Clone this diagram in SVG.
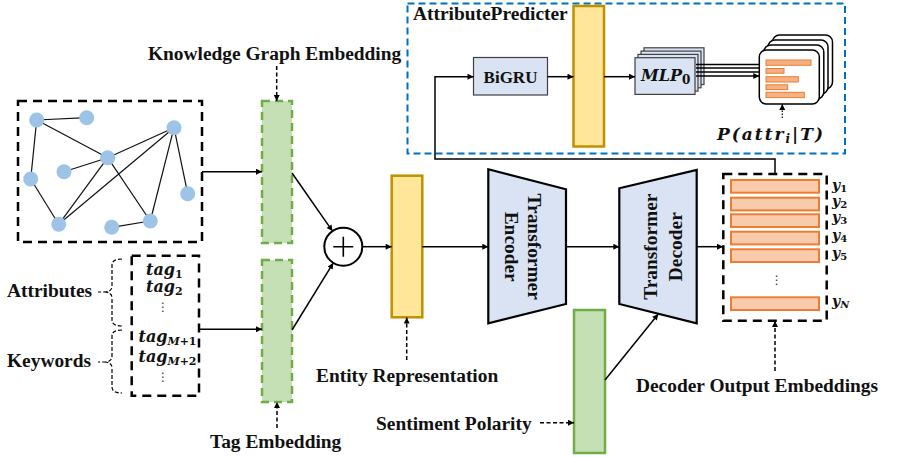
<svg xmlns="http://www.w3.org/2000/svg" width="897" height="457" viewBox="0 0 897 457">
<defs>
<style>
.lbl{font-family:"Liberation Serif","Times New Roman",serif;font-weight:bold;font-size:19.4px;fill:#111}
.math{font-family:"DejaVu Serif",serif;font-weight:bold;font-style:italic;fill:#111}
.up{font-style:normal}
.dots{font-family:"DejaVu Sans",sans-serif;fill:#333}
.edge{stroke:#111;stroke-width:1.2;fill:none}
.node{fill:#9dc3e6}
.conn{stroke:#000;stroke-width:1.5;fill:none}
.dash{stroke:#000;stroke-width:1.5;fill:none;stroke-dasharray:4 2.5}
.box{fill:none;stroke:#000;stroke-width:2.5;stroke-dasharray:9 6}
.green{fill:#c5e0b4;stroke:#70ad47;stroke-width:2.5;stroke-dasharray:8 5}
.yellow{fill:#ffe699;stroke:#bf9000;stroke-width:2.5}
.trap{fill:#dae3f3;stroke:#000;stroke-width:2.2}
.lblue{fill:#dae3f3;stroke:#404040;stroke-width:1.2}
.obar{fill:#f8cbad;stroke:#ed7d31;stroke-width:2}
.cbar{fill:#f4b183;stroke:#ed7d31;stroke-width:1}
.card{fill:#fff;stroke:#000;stroke-width:1.5}
.brace{fill:none;stroke:#000;stroke-width:1.2;stroke-dasharray:4 2}
</style>
<marker id="ah" viewBox="0 0 10 10" refX="10" refY="5" markerWidth="7" markerHeight="6" markerUnits="userSpaceOnUse" orient="auto"><path d="M0,0 L10,5 L0,10 z" fill="#000"/></marker>
</defs>
<rect width="897" height="457" fill="#fff"/>

<!-- Attribute predictor -->
<g id="attribute-predicter">
<rect x="407.5" y="3.5" width="437.5" height="150" fill="none" stroke="#0070c0" stroke-width="2" stroke-dasharray="7 4"/>
<text class="lbl" x="413" y="20">AttributePredicter</text>
</g>
<g id="bigru">
<rect class="lblue" x="473.5" y="57.5" width="74" height="37.5"/>
<text class="lbl" x="510.5" y="82.5" text-anchor="middle" style="font-size:17px">BiGRU</text>
</g>
<g id="ap-hidden">
<rect class="yellow" x="573.5" y="6" width="30.5" height="140.5"/>
</g>
<g id="mlp">
<rect class="lblue" x="644" y="47.8" width="60" height="36.7"/>
<rect class="lblue" x="641" y="51.1" width="60" height="36.7"/>
<rect class="lblue" x="638" y="54.4" width="60" height="36.7"/>
<rect class="lblue" x="635" y="57.7" width="60" height="36.7"/>
<text class="math" x="641" y="81" style="font-size:16px">MLP<tspan class="up" font-size="12" dy="3">0</tspan></text>
</g>
<g id="attr-prob">
<rect class="card" x="772.5" y="35" width="60" height="54" rx="7"/>
<rect class="card" x="768" y="40" width="60" height="54" rx="7"/>
<rect class="card" x="763.8" y="45" width="60" height="54" rx="7"/>
<rect class="card" x="759.3" y="50" width="60" height="54" rx="7"/>
<rect class="cbar" x="766" y="60" width="45" height="5.3"/>
<rect class="cbar" x="766" y="68.5" width="18" height="4.8"/>
<rect class="cbar" x="766" y="76.7" width="32.3" height="5.3"/>
<rect class="cbar" x="766" y="84.8" width="21.7" height="4.8"/>
<rect class="cbar" x="766" y="92.3" width="38.3" height="5.3"/>
<text class="math" x="717" y="140" style="font-size:17px" letter-spacing="2">P(attr<tspan font-size="12" dy="3">i</tspan><tspan dy="-3">|T)</tspan></text>
</g>

<!-- Knowledge graph -->
<g id="knowledge-graph">
<rect class="box" x="18" y="101" width="184" height="141"/>
<g class="edge">
<line x1="36.7" y1="120" x2="86.7" y2="117.7"/>
<line x1="36.7" y1="120" x2="107.7" y2="157.7"/>
<line x1="36.7" y1="120" x2="30.7" y2="179"/>
<line x1="30.7" y1="179" x2="58.7" y2="224.3"/>
<line x1="64" y1="171.7" x2="107.7" y2="157.7"/>
<line x1="107.7" y1="157.7" x2="58.7" y2="224.3"/>
<line x1="174" y1="127.7" x2="107.7" y2="157.7"/>
<line x1="174" y1="127.7" x2="58.7" y2="224.3"/>
<line x1="174" y1="127.7" x2="150.3" y2="221"/>
<line x1="174" y1="127.7" x2="187.7" y2="193.7"/>
<line x1="107.7" y1="157.7" x2="150.3" y2="221"/>
<line x1="111.7" y1="227.3" x2="150.3" y2="221"/>
</g>
<circle class="node" cx="36.7" cy="120" r="7.5"/>
<circle class="node" cx="86.7" cy="117.7" r="7.5"/>
<circle class="node" cx="174" cy="127.7" r="7.5"/>
<circle class="node" cx="107.7" cy="157.7" r="7.5"/>
<circle class="node" cx="64" cy="171.7" r="7.5"/>
<circle class="node" cx="30.7" cy="179" r="7.5"/>
<circle class="node" cx="187.7" cy="193.7" r="7.5"/>
<circle class="node" cx="58.7" cy="224.3" r="7.5"/>
<circle class="node" cx="111.7" cy="227.3" r="7.5"/>
<circle class="node" cx="150.3" cy="221" r="7.5"/>
</g>

<g id="kg-embedding">
<rect class="green" x="262" y="101" width="30" height="142"/>
<text class="lbl" x="148" y="60">Knowledge Graph Embedding</text>
</g>

<!-- Tags -->
<g id="tags">
<rect class="box" x="131.7" y="255.7" width="67.3" height="140"/>
<text class="math" x="146" y="274.5" style="font-size:16px">tag<tspan class="up" font-size="11" dy="3">1</tspan></text>
<text class="math" x="146" y="292.3" style="font-size:16px">tag<tspan class="up" font-size="11" dy="3">2</tspan></text>
<text class="dots" x="163" y="311" text-anchor="middle" font-size="12">⋮</text>
<text class="math" x="138.5" y="341.7" style="font-size:16px">tag<tspan font-size="11" dy="3">M</tspan><tspan class="up" font-size="11">+1</tspan></text>
<text class="math" x="138.5" y="361.7" style="font-size:16px">tag<tspan font-size="11" dy="3">M</tspan><tspan class="up" font-size="11">+2</tspan></text>
<text class="dots" x="163" y="381" text-anchor="middle" font-size="12">⋮</text>
</g>
<g id="attributes">
<text class="lbl" x="7" y="297">Attributes</text>
<path class="brace" d="M122,259 Q112,259 112,265 V286 Q112,292 104,292 H98 M104,292 Q112,292 112,298 V320 Q112,326 122,326"/>
</g>
<g id="keywords">
<text class="lbl" x="7" y="366.7">Keywords</text>
<path class="brace" d="M122,330 Q112,330 112,336 V356 Q112,362 104,362 H98 M104,362 Q112,362 112,368 V387 Q112,393 122,393"/>
</g>
<g id="tag-embedding">
<rect class="green" x="262" y="260" width="30" height="142"/>
<text class="lbl" x="210" y="448">Tag Embedding</text>
</g>

<!-- Fusion -->
<g id="plus">
<circle cx="343.3" cy="246.7" r="19" fill="#fff" stroke="#000" stroke-width="2"/>
<path d="M333.3,246.7 H353.3 M343.3,236.7 V256.7" stroke="#000" stroke-width="1.6"/>
</g>
<g id="entity-representation">
<rect class="yellow" x="391.7" y="175.7" width="30.6" height="141.6"/>
<text class="lbl" x="316" y="382">Entity Representation</text>
</g>
<g id="encoder">
<polygon class="trap" points="488.3,169.3 566,189.3 566,304 488.3,323.3"/>
<g transform="translate(528,246.7) rotate(90)">
<text class="lbl" x="0" y="0" text-anchor="middle">Transformer</text>
<text class="lbl" x="0" y="23" text-anchor="middle">Encoder</text>
</g>
</g>
<g id="decoder">
<polygon class="trap" points="619.3,188.3 696.7,170 696.7,323.3 619.3,304"/>
<g transform="translate(657,246.7) rotate(-90)">
<text class="lbl" x="0" y="0" text-anchor="middle">Transformer</text>
<text class="lbl" x="0" y="25" text-anchor="middle">Decoder</text>
</g>
</g>
<g id="sentiment">
<rect x="574" y="310" width="31" height="143" fill="#c5e0b4" stroke="#70ad47" stroke-width="2.5"/>
<text class="lbl" x="376" y="430">Sentiment Polarity</text>
</g>
<g id="decoder-output">
<rect class="box" x="723.3" y="174" width="103.4" height="146.7"/>
<rect class="obar" x="731" y="180" width="88" height="12.7"/>
<rect class="obar" x="731" y="197.7" width="88" height="12.7"/>
<rect class="obar" x="731" y="214.3" width="88" height="12.7"/>
<rect class="obar" x="731" y="231.7" width="88" height="12.7"/>
<rect class="obar" x="731" y="249.3" width="88" height="12.7"/>
<rect class="obar" x="731" y="297.3" width="88" height="12.7"/>
<text class="dots" x="776.7" y="284" text-anchor="middle" font-size="12">⋮</text>
<g class="math" style="font-size:14px">
<text x="832" y="190">y<tspan class="up" font-size="10" dy="2">1</tspan></text>
<text x="832" y="206">y<tspan class="up" font-size="10" dy="2">2</tspan></text>
<text x="832" y="222">y<tspan class="up" font-size="10" dy="2">3</tspan></text>
<text x="832" y="240">y<tspan class="up" font-size="10" dy="2">4</tspan></text>
<text x="832" y="258">y<tspan class="up" font-size="10" dy="2">5</tspan></text>
<text x="832" y="306">y<tspan font-size="10" dy="2">N</tspan></text>
</g>
<text class="lbl" x="636" y="391.5">Decoder Output Embeddings</text>
</g>

<!-- Connectors -->
<g id="connectors">
<line class="conn" x1="202" y1="171.7" x2="262" y2="171.7" marker-end="url(#ah)"/>
<line class="conn" x1="199" y1="329.3" x2="262" y2="329.3" marker-end="url(#ah)"/>
<line class="conn" x1="292" y1="173" x2="332.5" y2="231.1" marker-end="url(#ah)"/>
<line class="conn" x1="292" y1="330" x2="333.3" y2="262.9" marker-end="url(#ah)"/>
<line class="conn" x1="362.3" y1="246.7" x2="391.7" y2="246.7" marker-end="url(#ah)"/>
<line class="conn" x1="422.3" y1="246.7" x2="488.3" y2="246.7" marker-end="url(#ah)"/>
<line class="conn" x1="566" y1="246.7" x2="619.3" y2="246.7" marker-end="url(#ah)"/>
<line class="conn" x1="696.7" y1="246.7" x2="723" y2="246.7" marker-end="url(#ah)"/>
<line class="conn" x1="605" y1="380" x2="658.3" y2="314" marker-end="url(#ah)"/>
<path class="conn" d="M775,174 V159 H435 V76.7 H473.5" marker-end="url(#ah)"/>
<line class="conn" x1="547.5" y1="76.7" x2="573.5" y2="76.7" marker-end="url(#ah)"/>
<line class="conn" x1="604" y1="76.7" x2="635" y2="76.7" marker-end="url(#ah)"/>
<line class="conn" x1="696" y1="64.5" x2="759.3" y2="64.5"/>
<line class="conn" x1="696" y1="68" x2="759.3" y2="68"/>
<line class="conn" x1="696" y1="72" x2="759.3" y2="72"/>
<line class="conn" x1="696" y1="76" x2="759.3" y2="76" marker-end="url(#ah)"/>
<line class="dash" x1="276.7" y1="66" x2="276.7" y2="101" marker-end="url(#ah)"/>
<line class="dash" x1="277" y1="428" x2="277" y2="402" marker-end="url(#ah)"/>
<line class="dash" x1="406.7" y1="360" x2="406.7" y2="317.5" marker-end="url(#ah)"/>
<line class="dash" x1="540" y1="422.7" x2="574" y2="422.7" marker-end="url(#ah)"/>
<line class="dash" x1="775" y1="371" x2="775" y2="321" marker-end="url(#ah)"/>
<line x1="782.3" y1="118" x2="782.3" y2="104" stroke="#000" stroke-width="1.2" stroke-dasharray="1.5 1.5" marker-end="url(#ah)"/>
</g>
</svg>
